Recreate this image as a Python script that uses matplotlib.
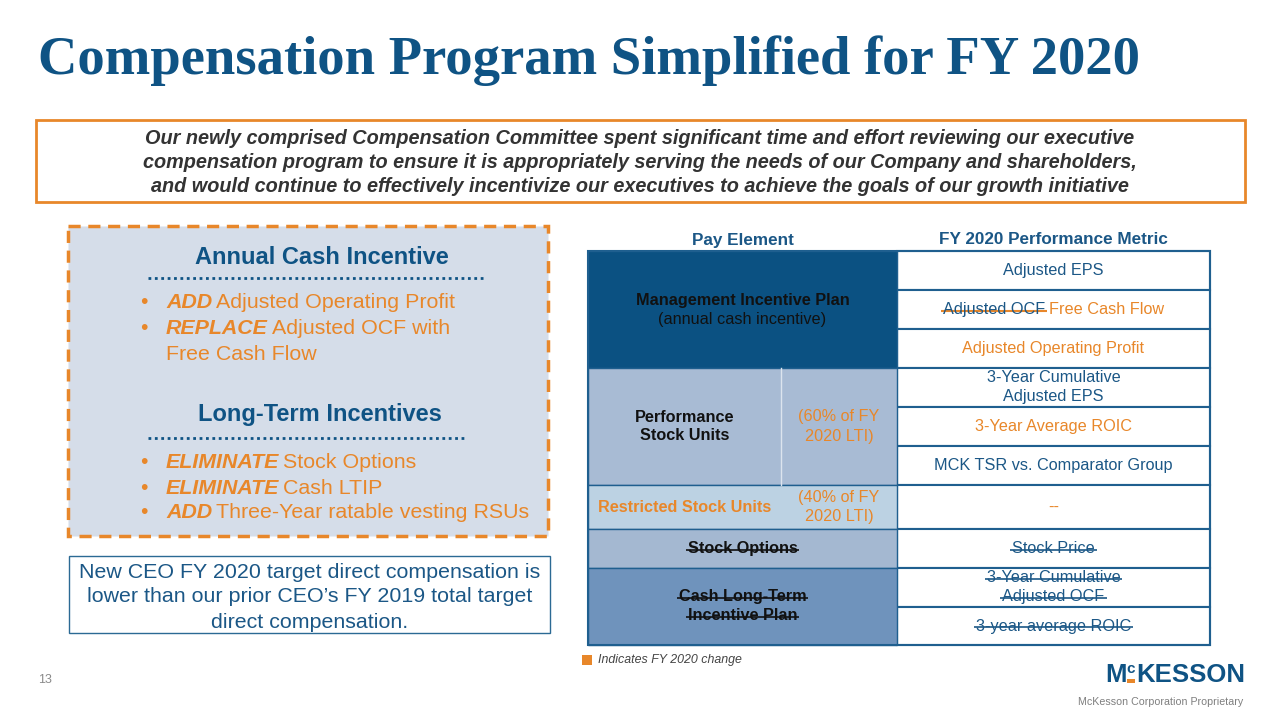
import matplotlib.pyplot as plt
from matplotlib.patches import Rectangle

plt.rcParams['font.family'] = ['Liberation Sans', 'DejaVu Sans']

title = 'Compensation Program Simplified for FY 2020'
intro_lines = [
    'Our newly comprised Compensation Committee spent significant time and effort reviewing our executive',
    'compensation program to ensure it is appropriately serving the needs of our Company and shareholders,',
    'and would continue to effectively incentivize our executives to achieve the goals of our growth initiative',
]
aci_title = 'Annual Cash Incentive'
aci_bullets = [('ADD', 'Adjusted Operating Profit'), ('REPLACE', 'Adjusted OCF with'), ('', 'Free Cash Flow')]
lti_title = 'Long-Term Incentives'
lti_bullets = [('ELIMINATE', 'Stock Options'), ('ELIMINATE', 'Cash LTIP'), ('ADD', 'Three-Year ratable vesting RSUs')]
ceo_note = [
    'New CEO FY 2020 target direct compensation is',
    'lower than our prior CEO\u2019s FY 2019 total target',
    'direct compensation.',
]
headers = ['Pay Element', 'FY 2020 Performance Metric']
pay_elements = ['Management Incentive Plan', 'Performance\nStock Units', 'Restricted Stock Units',
                'Stock Options', 'Cash Long-Term\nIncentive Plan']
pay_subtitle = '(annual cash incentive)'
lti_shares = ['(60% of FY\n2020 LTI)', '(40% of FY\n2020 LTI)']
rows_per_element = [3, 3, 1, 1, 2]
metrics = ['Adjusted EPS', 'Free Cash Flow', 'Adjusted Operating Profit', '3-Year Cumulative\nAdjusted EPS',
           '3-Year Average ROIC', 'MCK TSR vs. Comparator Group', '--', 'Stock Price',
           '3-Year Cumulative\nAdjusted OCF', '3-year average ROIC']
metric_status = ['kept', 'new', 'new', 'kept', 'new', 'kept', 'new', 'removed', 'removed', 'removed']
replaced_metric = 'Adjusted OCF'
legend_text = 'Indicates FY 2020 change'
page_number = '13'
footer = 'McKesson Corporation Proprietary'

BLUE = '#0f5384'
TXT_BLUE = '#1b5786'
ORANGE = '#e8872a'
BORDER = '#1f5f8f'
cell_colors = ['#0b5182', '#a8bbd4', '#bcd2e3', '#a4b8d1', '#6f93bc']
FS = 11.7

fig = plt.figure(figsize=(12.8, 7.2), dpi=100)
ax = fig.add_axes([0, 0, 1, 1])
ax.set_xlim(0, 1280)
ax.set_ylim(720, 0)
ax.axis('off')
renderer = fig.canvas.get_renderer()


def width(t):
    return t.get_window_extent(renderer).width


def strike(t, color, lw=1.2):
    bb = t.get_window_extent(renderer)
    ym = 720 - (bb.y0 + bb.y1) / 2 + 1
    ax.plot([bb.x0 - 2, bb.x1 + 2], [ym, ym], color=color, lw=lw, solid_capstyle='butt')


def runs(x, y, parts, ha='left', gap=5):
    texts = [ax.text(0, y, s, va='center', ha='left', **kw) for s, kw in parts]
    ws = [width(t) for t in texts]
    start = x - (sum(ws) + gap * (len(ws) - 1)) / 2 if ha == 'center' else x
    for t, w in zip(texts, ws):
        t.set_x(start)
        start += w + gap
    return texts


def lines(x, y, text, step, strike_color=None, **kw):
    parts = text.split('\n')
    y0 = y - step * (len(parts) - 1) / 2
    for i, s in enumerate(parts):
        t = ax.text(x, y0 + i * step, s, ha='center', va='center', **kw)
        if strike_color:
            strike(t, strike_color)


# title
ax.text(38, 61, title, fontsize=39.3, fontweight='bold', family='Liberation Serif', color=BLUE, va='center')

# intro box
ax.add_patch(Rectangle((36, 120), 1209, 82, facecolor='white', edgecolor=ORANGE, lw=2))
for i, s in enumerate(intro_lines):
    ax.text(640, 139 + i * 24, s, ha='center', va='center', fontsize=14.3, fontweight='bold',
            style='italic', color='#333333')

# left panel
ax.add_patch(Rectangle((68, 226), 480, 310, facecolor='#d5dde9', edgecolor=ORANGE, lw=2.5,
                       linestyle=(0, (3.5, 2.2))))
ax.text(322, 258, aci_title, ha='center', va='center', fontsize=17, fontweight='bold', color=BLUE)
ax.plot([148, 483], [278, 278], color=BLUE, lw=2, linestyle=(0, (1, 1.3)))
ax.text(320, 415, lti_title, ha='center', va='center', fontsize=17, fontweight='bold', color=BLUE)
ax.plot([148, 465], [438, 438], color=BLUE, lw=2, linestyle=(0, (1, 1.3)))

for ys, bullets in [([302, 328, 354], aci_bullets), ([462, 488, 513], lti_bullets)]:
    for y, (verb, rest) in zip(ys, bullets):
        parts = []
        if verb:
            ax.text(140, y, '\u2022', ha='left', va='center', fontsize=15.4, color=ORANGE)
            parts.append((verb, dict(fontsize=15.4, fontweight='bold', style='italic', color=ORANGE)))
        parts.append((rest, dict(fontsize=15.4, color=ORANGE)))
        runs(166, y, parts, gap=4)

# CEO note box
ax.add_patch(Rectangle((69, 556), 481, 77, facecolor='white', edgecolor='#2b6a94', lw=1))
for i, s in enumerate(ceo_note):
    ax.text(310, 572 + i * 25, s, ha='center', va='center', fontsize=15.4, color=TXT_BLUE)

# table
x_left, x_split, x_metric, x_right = 588, 781, 897, 1210
row_h = [39, 39, 39, 39, 39, 39, 44, 39, 39, 38]
row_top = [251]
for h in row_h:
    row_top.append(row_top[-1] + h)

ax.text((x_left + x_metric) / 2, 240, headers[0], ha='center', va='center', fontsize=12.3,
        fontweight='bold', color=TXT_BLUE)
ax.text((x_metric + x_right) / 2, 240, headers[1], ha='center', va='center', fontsize=12.3,
        fontweight='bold', color=TXT_BLUE)

xm = (x_metric + x_right) / 2
for i, m in enumerate(metrics):
    y0, y1 = row_top[i], row_top[i + 1]
    ax.add_patch(Rectangle((x_metric, y0), x_right - x_metric, y1 - y0, facecolor='white',
                           edgecolor=BORDER, lw=1.5))
    yc = (y0 + y1) / 2
    st = metric_status[i]
    if i == 1:
        t_old, t_new = runs(xm, yc, [(replaced_metric, dict(fontsize=FS, color=TXT_BLUE)),
                                     (m, dict(fontsize=FS, color=ORANGE))], ha='center', gap=4)
        strike(t_old, ORANGE, lw=1.5)
    elif st == 'new':
        lines(xm, yc, m, 19, fontsize=FS, color=ORANGE)
    elif st == 'removed':
        lines(xm, yc, m, 19, strike_color=TXT_BLUE, fontsize=FS, color=TXT_BLUE)
    else:
        lines(xm, yc, m, 19, fontsize=FS, color=TXT_BLUE)

k = 0
for j, (name, n) in enumerate(zip(pay_elements, rows_per_element)):
    y0, y1 = row_top[k], row_top[k + n]
    k += n
    yc = (y0 + y1) / 2
    ax.add_patch(Rectangle((x_left, y0), x_metric - x_left, y1 - y0, facecolor=cell_colors[j],
                           edgecolor=BORDER, lw=1))
    xc = (x_left + x_metric) / 2
    if j == 0:
        ax.text(xc, yc - 9, name, ha='center', va='center', fontsize=FS, fontweight='bold', color='#111111')
        ax.text(xc, yc + 10, pay_subtitle, ha='center', va='center', fontsize=FS, color='#111111')
    elif j in (1, 2):
        xs = (x_left + x_split) / 2
        if j == 1:
            ax.plot([x_split, x_split], [y0, y1], color='#dce4ee', lw=1)
            lines(xs, yc, name, 19, fontsize=FS, fontweight='bold', color='#111111')
        else:
            lines(xs, yc, name, 19, fontsize=FS, fontweight='bold', color=ORANGE)
        lines((x_split + x_metric) / 2, yc, lti_shares[j - 1], 19, fontsize=FS, color=ORANGE)
    else:
        lines(xc, yc, name, 19, strike_color='#111111', fontsize=FS, fontweight='bold', color='#111111')

ax.add_patch(Rectangle((x_left, row_top[0]), x_right - x_left, row_top[-1] - row_top[0],
                       facecolor='none', edgecolor=BORDER, lw=1.5))

# legend
ax.add_patch(Rectangle((582, 655), 10, 10, facecolor=ORANGE, edgecolor='none'))
ax.text(598, 660, legend_text, ha='left', va='center', fontsize=8.9, style='italic', color='#444444')

# footer
ax.text(38, 680, page_number, ha='left', va='center', fontsize=9, color='#8a8a8a')
logo_m = ax.text(1105, 675, 'M', ha='left', va='center', fontsize=18.5, fontweight='bold', color=BLUE)
xw = 1105 + width(logo_m)
logo_c = ax.text(xw, 669, 'c', ha='left', va='center', fontsize=11, fontweight='bold', color=BLUE)
cw = width(logo_c)
ax.add_patch(Rectangle((xw, 679), cw, 4, facecolor=ORANGE, edgecolor='none'))
ax.text(xw + cw + 1, 675, 'KESSON', ha='left', va='center', fontsize=18.5, fontweight='bold', color=BLUE)
ax.text(1243, 702, footer, ha='right', va='center', fontsize=7.7, color='#7f7f7f')

fig.savefig('out.png', dpi=100)
